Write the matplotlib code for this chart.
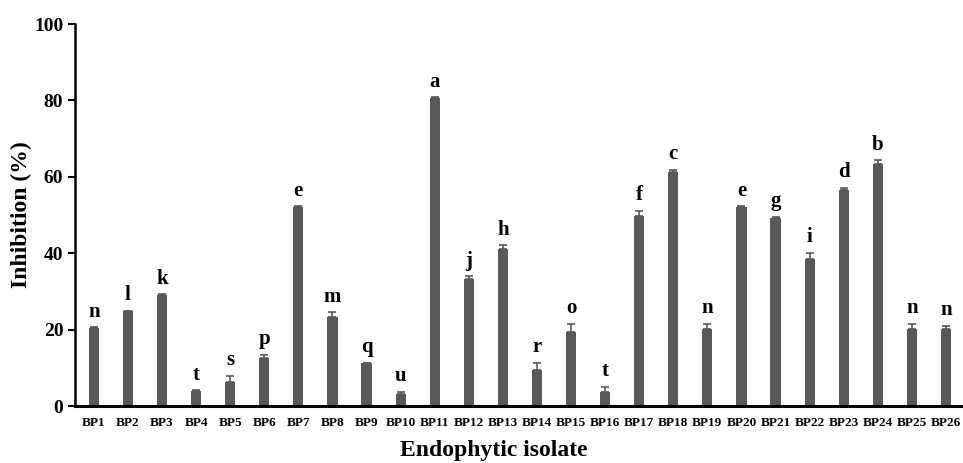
import matplotlib.pyplot as plt
import numpy as np

isolates = ['BP' + str(i) for i in range(1, 27)]
inhibition = [20.4, 24.8, 29.1, 3.9, 6.4, 12.6, 52.1, 23.3, 11.2, 3.1,
              80.6, 33.2, 41.1, 9.4, 19.5, 3.8, 49.8, 61.3, 20.3, 52.1,
              49.2, 38.5, 56.6, 63.4, 20.3, 20.3]
errors = [0.2, 0.2, 0.2, 0.2, 1.5, 0.8, 0.2, 1.3, 0.2, 0.7,
          0.2, 0.8, 1.0, 2.0, 2.0, 1.3, 1.3, 0.6, 1.3, 0.2,
          0.4, 1.6, 0.5, 0.9, 1.3, 0.7]
letters = ['n', 'l', 'k', 't', 's', 'p', 'e', 'm', 'q', 'u',
           'a', 'j', 'h', 'r', 'o', 't', 'f', 'c', 'n', 'e',
           'g', 'i', 'd', 'b', 'n', 'n']

plt.rcParams['font.family'] = 'Liberation Serif'
plt.rcParams['font.weight'] = 'bold'

fig = plt.figure(figsize=(9.63, 4.63), dpi=100)
ax = fig.add_axes([0.078, 0.123, 0.922, 0.825])

x = np.arange(len(isolates))
ax.bar(x, inhibition, width=0.3, color='#595959', zorder=2)
ax.errorbar(x, inhibition, yerr=[np.zeros(len(errors)), errors], fmt='none',
            ecolor='#595959', elinewidth=1.2, capsize=3, capthick=1.2, zorder=3)

for i, lab in enumerate(letters):
    ax.annotate(lab, (x[i], inhibition[i] + errors[i]), xytext=(0, 4),
                textcoords='offset points', ha='center', va='bottom',
                fontsize=15, fontweight='bold')

ax.set_xlim(-0.55, 25.5)
ax.set_ylim(0, 100)
ax.set_yticks([0, 20, 40, 60, 80, 100])
ax.set_xticks(x)
ax.set_xticklabels(isolates, fontsize=9.5, fontweight='bold')
ax.tick_params(axis='x', length=0, pad=8)
ax.tick_params(axis='y', labelsize=14, width=1.5, length=5)
for t in ax.get_yticklabels():
    t.set_fontweight('bold')

ax.spines['top'].set_visible(False)
ax.spines['right'].set_visible(False)
ax.spines['left'].set_linewidth(1.8)
ax.spines['bottom'].set_linewidth(2.2)

ax.set_ylabel('Inhibition (%)', fontsize=17, fontweight='bold')
ax.yaxis.set_label_coords(-0.048, 0.5)
ax.set_xlabel('Endophytic isolate', fontsize=17, fontweight='bold')
ax.xaxis.set_label_coords(0.472, -0.088)

fig.savefig('out.png', dpi=100)
